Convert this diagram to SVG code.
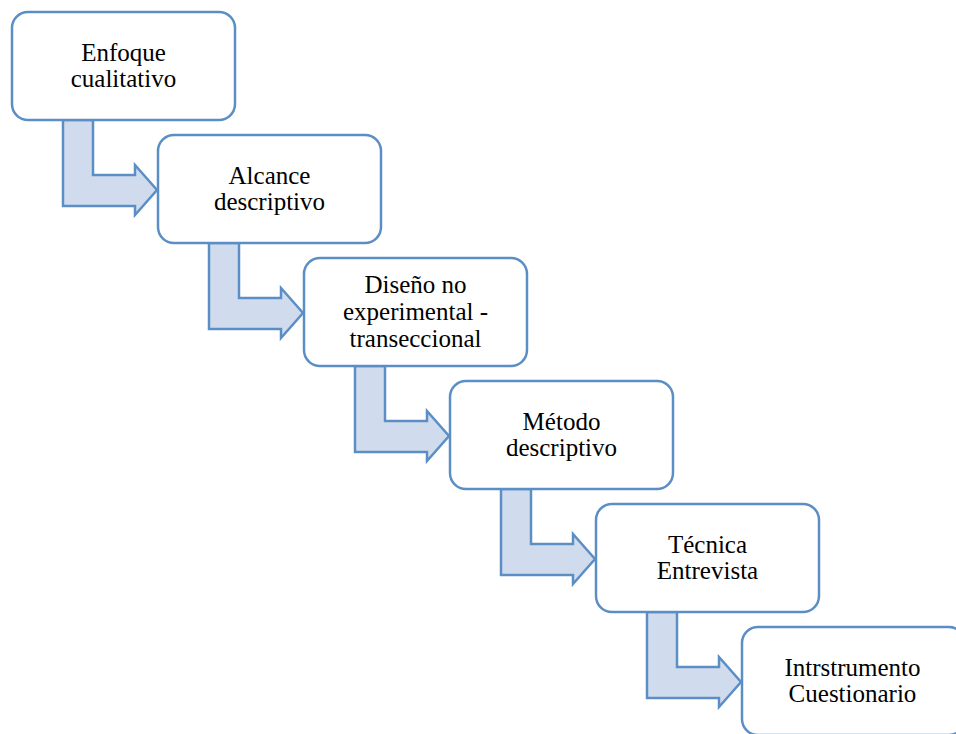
<svg xmlns="http://www.w3.org/2000/svg" xmlns:xlink="http://www.w3.org/1999/xlink" width="956" height="734" viewBox="0 0 956 734">
<style>
.box{fill:#ffffff;stroke:#5B8EC5;stroke-width:2.5}
.arr{fill:#D0DCEE;stroke:#5B8EC5;stroke-width:2.5;stroke-linejoin:miter}
.t{font-size:25px;fill:#000;text-anchor:middle}
</style>
<defs>
<path id="bent" d="M51 108 L81 108 L81 163 L123 163 L123 153 L145 178 L123 203 L123 194 L51 194 Z"/>
</defs>
<rect width="956" height="734" fill="#ffffff"/>
<g id="connectors">
<use xlink:href="#bent" class="arr" transform="translate(12,12)"/>
<use xlink:href="#bent" class="arr" transform="translate(158,135)"/>
<use xlink:href="#bent" class="arr" transform="translate(304,258)"/>
<use xlink:href="#bent" class="arr" transform="translate(450,381)"/>
<use xlink:href="#bent" class="arr" transform="translate(596,504)"/>
</g>
<g font-family="'Liberation Serif', 'DejaVu Serif', serif">
<g id="n1"><rect class="box" x="12" y="12" width="223" height="108" rx="16"/>
<text class="t" x="123.5" y="61">Enfoque</text><text class="t" x="123.5" y="87">cualitativo</text></g>
<g id="n2"><rect class="box" x="158" y="135" width="223" height="108" rx="16"/>
<text class="t" x="269.5" y="184">Alcance</text><text class="t" x="269.5" y="210">descriptivo</text></g>
<g id="n3"><rect class="box" x="304" y="258" width="223" height="108" rx="16"/>
<text class="t" x="415.5" y="293">Diseño no</text><text class="t" x="415.5" y="320">experimental -</text><text class="t" x="415.5" y="347">transeccional</text></g>
<g id="n4"><rect class="box" x="450" y="381" width="223" height="108" rx="16"/>
<text class="t" x="561.5" y="430">Método</text><text class="t" x="561.5" y="456">descriptivo</text></g>
<g id="n5"><rect class="box" x="596" y="504" width="223" height="108" rx="16"/>
<text class="t" x="707.5" y="553">Técnica</text><text class="t" x="707.5" y="579">Entrevista</text></g>
<g id="n6"><rect class="box" x="742" y="627" width="223" height="108" rx="16"/>
<text class="t" x="852.5" y="676">Intrstrumento</text><text class="t" x="852.5" y="702">Cuestionario</text></g>
</g>
</svg>
